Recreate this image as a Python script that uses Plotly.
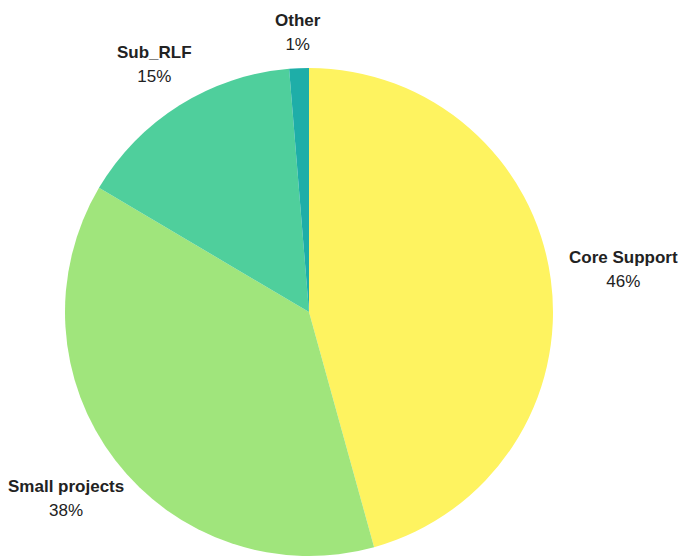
import math
import plotly.graph_objects as go

# Funding breakdown by category (share of total, %)
categories = ["Core Support", "Small projects", "Sub_RLF", "Other"]
shares = [45.7, 37.8, 15.2, 1.3]
slice_colors = ["#fef360", "#a0e57c", "#4fcf9c", "#1eaea8"]

# Layout settings (pixels)
W, H = 679, 556
M_L, M_R, M_T, M_B = 65, 126, 68, 0
plot_w = W - M_L - M_R
plot_h = H - M_T - M_B
radius = min(plot_w, plot_h) / 2
# how far past the rim each label block's centre sits
label_gap = [73, 62, 48, 36]

fig = go.Figure(
    go.Pie(
        labels=categories,
        values=shares,
        sort=False,
        direction="clockwise",
        rotation=0,
        marker=dict(colors=slice_colors, line=dict(width=0)),
        textinfo="none",
        hoverinfo="label+percent",
        showlegend=False,
        automargin=False,
    )
)

# Outside labels centred on each slice's mid-angle
total = sum(shares)
cum = 0.0
for name, val, gap in zip(categories, shares, label_gap):
    mid = (cum + val / 2) / total * 2 * math.pi
    cum += val
    d = radius + gap
    x = 0.5 + d * math.sin(mid) / plot_w
    y = 0.5 + d * math.cos(mid) / plot_h
    pct = round(val / total * 100)
    fig.add_annotation(
        x=x, y=y, xref="paper", yref="paper",
        xanchor="center", yanchor="middle",
        text=f"<span style='font-size:17px'><b>{name}</b></span><br>"
             f"<span style='font-size:17px'>{pct}%</span>",
        showarrow=False,
        align="center",
        font=dict(family="Liberation Sans, Arial, sans-serif", size=18.5, color="#222222"),
    )

fig.update_layout(
    width=W,
    height=H,
    margin=dict(l=M_L, r=M_R, t=M_T, b=M_B),
    paper_bgcolor="white",
    plot_bgcolor="white",
)

fig.write_html("out.html")
